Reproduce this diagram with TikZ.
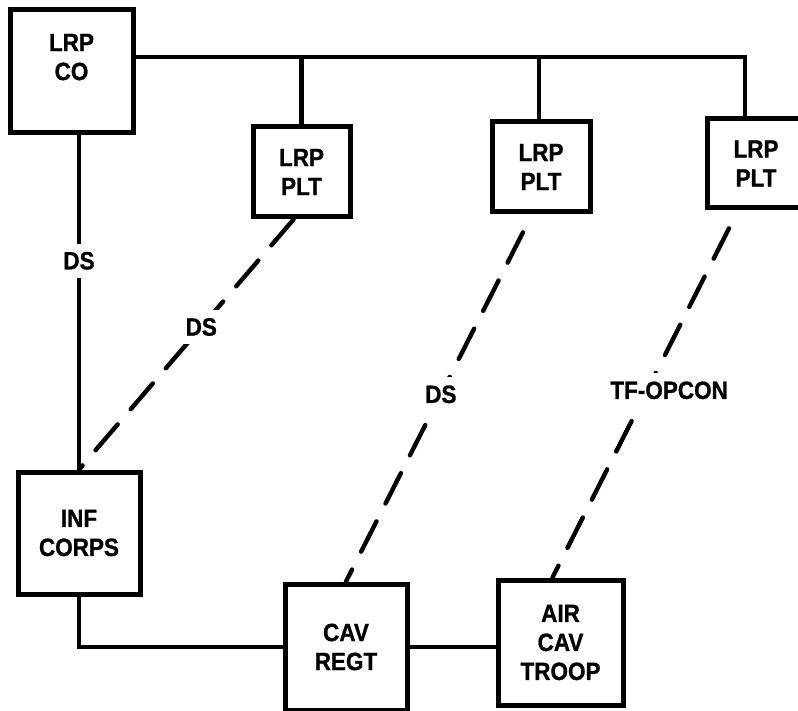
\documentclass[tikz,border=0pt]{standalone}
\usepackage{fontspec}
\setmainfont{Liberation Sans}[FakeStretch=0.9, BoldFeatures={FakeBold=1}]
\usetikzlibrary{positioning, calc}

\begin{document}
\begin{tikzpicture}[
    x=0.5pt, y=-0.5pt,
    unit/.style={rectangle, draw, line width=2.5pt, align=center, inner sep=0pt,
                 font=\fontsize{12.5}{14.5}\selectfont\bfseries},
    link/.style={line width=2.2pt},
    tie/.style={line width=2.2pt, line cap=round, dash pattern=on 17pt off 10pt},
    tag/.style={fill=white, inner sep=4pt, font=\fontsize{12.5}{14.5}\selectfont\bfseries}
]
\clip (0,0) rectangle (798,711);
% Nodes
\node[unit, minimum width=61.5pt, minimum height=61.5pt, text depth=14.5pt] (CO) at (71.5,71.5) {LRP\\CO};
\node[unit, minimum width=48.5pt, minimum height=45pt] (P1) at (301.5,172) {LRP\\PLT};
\node[unit, minimum width=49pt, minimum height=45pt] (P2) at (541,167) {LRP\\PLT};
\node[unit, minimum width=49pt, minimum height=44.5pt] (P3) at (756,163.5) {LRP\\PLT};
\node[unit, minimum width=61pt, minimum height=61pt] (INF) at (79,533) {INF\\CORPS};
\node[unit, minimum width=61pt, minimum height=63pt] (CAV) at (346,647) {CAV\\REGT};
\node[unit, minimum width=62.5pt, minimum height=62.5pt] (AIR) at (560.5,642.5) {AIR\\CAV\\TROOP};

% Lines
\coordinate (bus) at (0,57);
\draw[link] (CO.east |- bus) -| ([xshift=-5.5pt]P3.north);
\draw[link] (P1.north) -- (P1.north |- bus);
\draw[link] ([xshift=-1pt]P2.north) -- ([xshift=-1pt]P2.north |- bus);
\draw[link] (CO.south -| INF.north) -- (INF.north) node[tag, pos=0.375] {DS};
\draw[link] (INF.south) |- (CAV.west);
\draw[link] (CAV.east) -- (CAV.east -| AIR.west);

% Dashed ties
\draw[tie] ([xshift=-4pt]P1.south) -- (INF.north) node[tag, pos=0.43] {DS};
\draw[tie, dash phase=17pt] ([xshift=-4.5pt]P2.south) -- (CAV.north) node[tag, pos=0.49] {DS};
\draw[tie, dash phase=17pt] ([xshift=-9pt]P3.south) -- ([xshift=-4pt]AIR.north) node[tag, pos=0.49, xshift=11pt] {TF-OPCON};
\end{tikzpicture}
\end{document}
